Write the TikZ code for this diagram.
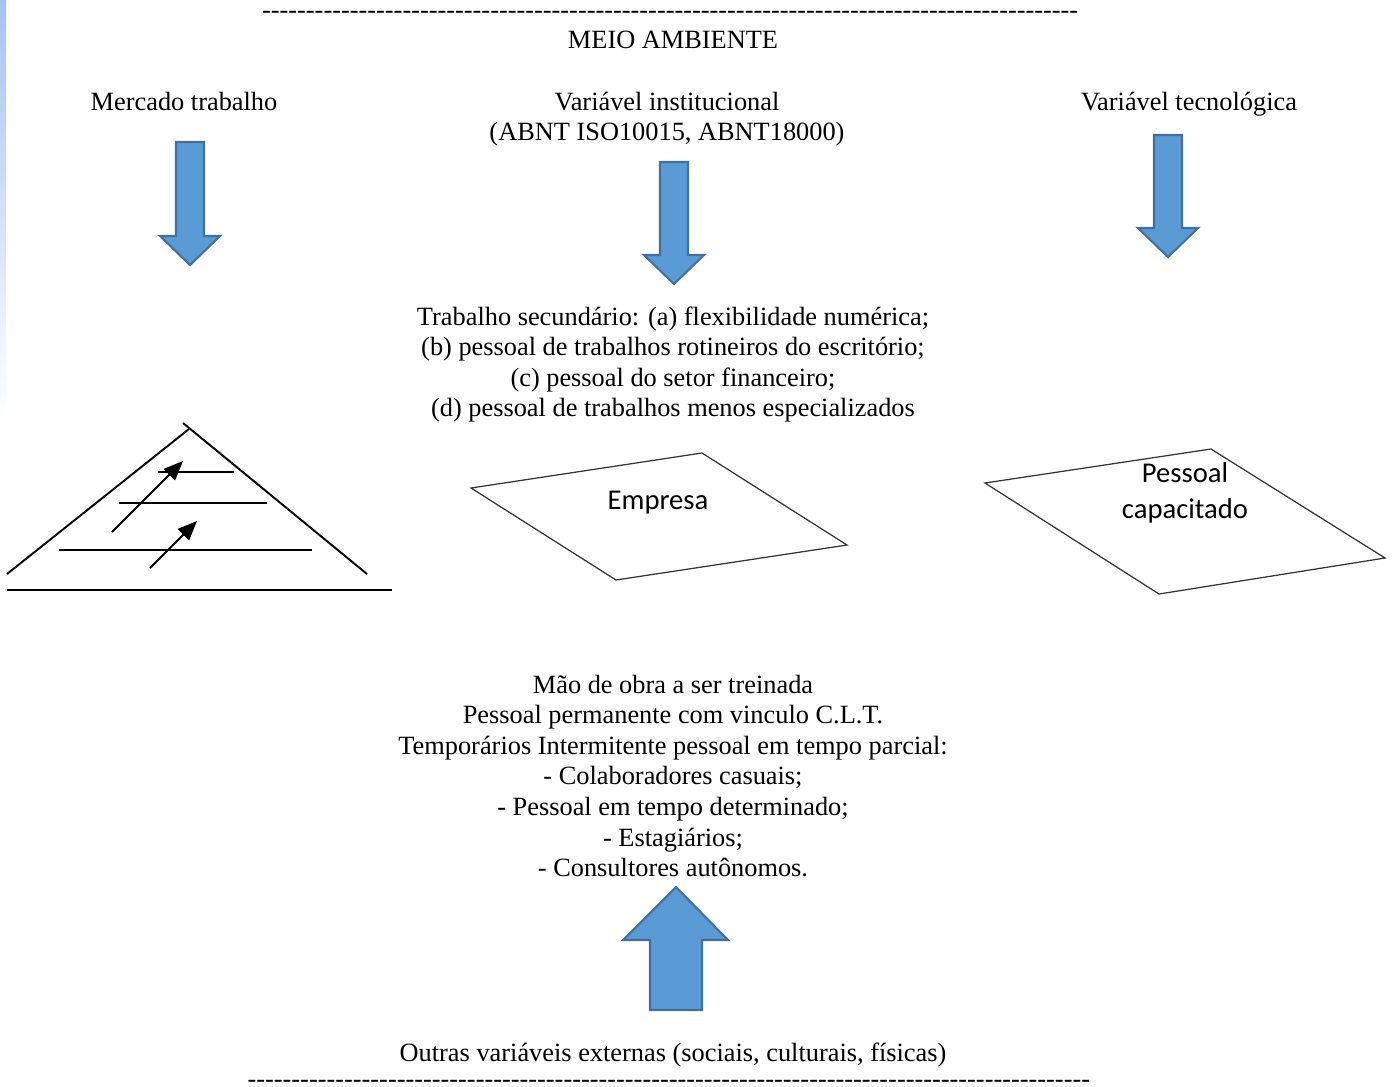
\documentclass[tikz,border=0pt]{standalone}
\usepackage{fontspec}
\setmainfont{Liberation Serif}
\newfontfamily\calibri{Carlito}
\usetikzlibrary{arrows.meta}

\tikzset{
  txt/.style={inner sep=0pt, align=center, font=\fontsize{15}{17.4}\selectfont},
  boxtxt/.style={inner sep=0pt, align=center, font=\calibri\fontsize{16.3}{20.5}\selectfont},
  blockarrow/.style={fill=blockblue, draw=blockedge, line width=1.2pt, line join=miter},
  plate/.style={draw=black!80, line width=0.7pt},
  step line/.style={line width=1.4pt},
}
\definecolor{blockblue}{HTML}{5B9BD5}
\definecolor{blockedge}{HTML}{41719C}
\definecolor{edgeblue}{HTML}{A9C1F2}

\begin{document}
\begin{tikzpicture}[x=0.02cm, y=-0.02cm]
    \useasboundingbox (0, 0) rectangle (1392, 1086);
    \shade[top color=edgeblue, bottom color=white] (0, 0) rectangle (6, 420);

    % top and bottom rows of hyphens
    \node[txt, anchor=base] (toprule) at (672, 18) {\makebox[16.4cm]{\leaders\hbox{-}\hfill}};
    \node[txt, anchor=base] (botrule) at (672, 1087) {\makebox[16.98cm]{\leaders\hbox{-}\hfill}};

    \node[txt] (meio) at (673, 40) {MEIO AMBIENTE};
    \node[txt] (mercado) at (184, 101) {Mercado trabalho};
    \node[txt] (instit) at (667, 119) {Variável institucional\\(ABNT ISO10015, ABNT18000)};
    \node[txt] (tecno) at (1189, 104) {Variável tecnológica};

    % block arrows
    \draw[blockarrow] (176, 142) -- (204, 142) -- (204, 236) -- (220, 236)
	-- (190, 265) -- (160, 236) -- (176, 236) -- cycle;
    \draw[blockarrow] (660, 162) -- (688, 162) -- (688, 255) -- (704, 255)
	-- (674, 284) -- (644, 255) -- (660, 255) -- cycle;
    \draw[blockarrow] (1154, 135) -- (1182, 135) -- (1182, 228) -- (1198, 228)
	-- (1168, 257) -- (1138, 228) -- (1154, 228) -- cycle;
    \draw[blockarrow] (650, 1010) -- (650, 940) -- (623, 940) -- (676, 887)
	-- (728, 940) -- (702, 940) -- (702, 1010) -- cycle;

    \node[txt] (secund) at (673, 364.5) {Trabalho secundário: (a) flexibilidade numérica;\\
	(b) pessoal de trabalhos rotineiros do escritório;\\
	(c) pessoal do setor financeiro;\\
	(d) pessoal de trabalhos menos especializados};

    % pyramid
    \draw[line width=1.1pt] (7, 574) -- (189, 429);
    \draw[line width=1.1pt] (183, 423) -- (367, 574);
    \draw[step line] (7, 590) -- (392, 590);
    \draw[step line] (158, 472) -- (234, 472);
    \draw[step line] (119, 503) -- (267, 503);
    \draw[step line] (59, 550) -- (312, 550);
    \draw[line width=1.1pt, -{Triangle[length=11pt, width=9pt]}] (112, 532) -- (183, 461);
    \draw[line width=1.1pt, -{Triangle[length=11pt, width=9pt]}] (150, 568) -- (197, 521);

    % parallelograms
    \draw[plate] (471, 488) -- (702, 453) -- (847, 545) -- (616, 580) -- cycle;
    \node[boxtxt] (empresa) at (658, 503) {Empresa};
    \draw[plate] (985, 483) -- (1211, 449) -- (1385, 558) -- (1159, 594) -- cycle;
    \node[boxtxt] (capac) at (1185, 493) {Pessoal\\capacitado};

    \node[txt] (maoobra) at (673, 776) {Mão de obra a ser treinada\\
	Pessoal permanente com vinculo C.L.T.\\
	Temporários Intermitente pessoal em tempo parcial:\\
	- Colaboradores casuais;\\
	- Pessoal em tempo determinado;\\
	- Estagiários;\\
	- Consultores autônomos.};

    \node[txt] (outras) at (673, 1055) {Outras variáveis externas (sociais, culturais, físicas)};
\end{tikzpicture}
\end{document}
